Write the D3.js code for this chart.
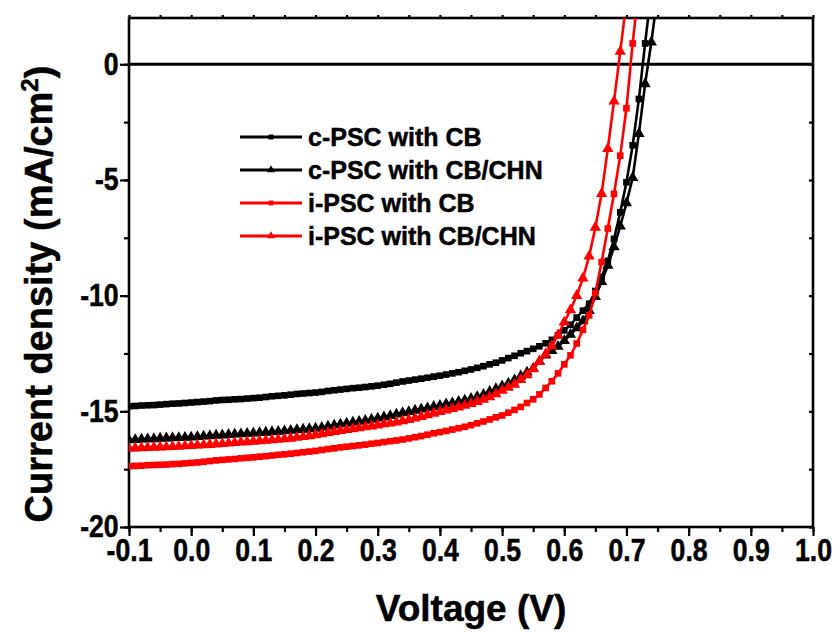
<!DOCTYPE html>
<html>
<head>
<meta charset="utf-8">
<script src="https://cdn.jsdelivr.net/npm/d3@7"></script>
<style>
  body { margin: 0; background: #fff; }
  text { font-family: Arial, "Liberation Sans", sans-serif; font-weight: bold; fill: #000; stroke: #000; stroke-width: 0.5px; }
</style>
</head>
<body>
<svg id="jv-chart" width="836" height="632"></svg>
<script>
// voltage (V), one point every 10 mV
var voltage = [-0.10,-0.09,-0.08,-0.07,-0.06,-0.05,-0.04,-0.03,-0.02,-0.01,
    0.00,0.01,0.02,0.03,0.04,0.05,0.06,0.07,0.08,0.09,
    0.10,0.11,0.12,0.13,0.14,0.15,0.16,0.17,0.18,0.19,
    0.20,0.21,0.22,0.23,0.24,0.25,0.26,0.27,0.28,0.29,
    0.30,0.31,0.32,0.33,0.34,0.35,0.36,0.37,0.38,0.39,
    0.40,0.41,0.42,0.43,0.44,0.45,0.46,0.47,0.48,0.49,
    0.50,0.51,0.52,0.53,0.54,0.55,0.56,0.57,0.58,0.59,
    0.60,0.61,0.62,0.63,0.64,0.65,0.66,0.67,0.68,0.69,
    0.70,0.71,0.72,0.73,0.74,0.75];

// current density (mA/cm2)
var cPscCB = [-14.78,-14.77,-14.75,-14.74,-14.73,-14.71,-14.69,-14.67,-14.66,-14.64,
    -14.62,-14.60,-14.58,-14.56,-14.53,-14.51,-14.50,-14.48,-14.47,-14.45,
    -14.43,-14.41,-14.38,-14.35,-14.33,-14.31,-14.28,-14.25,-14.23,-14.21,
    -14.19,-14.16,-14.12,-14.09,-14.06,-14.03,-14.00,-13.98,-13.95,-13.92,
    -13.89,-13.85,-13.81,-13.76,-13.71,-13.67,-13.63,-13.59,-13.55,-13.50,
    -13.46,-13.41,-13.36,-13.31,-13.25,-13.19,-13.12,-13.05,-12.97,-12.90,
    -12.80,-12.70,-12.60,-12.49,-12.40,-12.30,-12.19,-12.06,-11.91,-11.72,
    -11.50,-11.26,-10.95,-10.65,-10.35,-9.80,-9.20,-8.50,-7.55,-6.40,
    -5.10,-3.50,-1.50,0.90,3.20];

var cPscCBCHN = [-16.24,-16.23,-16.21,-16.20,-16.19,-16.17,-16.16,-16.15,-16.14,-16.13,
    -16.12,-16.10,-16.08,-16.06,-16.04,-16.03,-16.01,-15.99,-15.98,-15.96,
    -15.95,-15.93,-15.91,-15.89,-15.87,-15.85,-15.83,-15.80,-15.78,-15.76,
    -15.74,-15.70,-15.65,-15.60,-15.56,-15.52,-15.48,-15.44,-15.40,-15.35,
    -15.30,-15.25,-15.19,-15.13,-15.07,-15.02,-14.96,-14.91,-14.86,-14.80,
    -14.75,-14.69,-14.64,-14.58,-14.52,-14.45,-14.37,-14.28,-14.15,-14.03,
    -13.91,-13.80,-13.65,-13.48,-13.31,-13.15,-12.85,-12.57,-12.38,-12.20,
    -11.95,-11.68,-11.40,-11.10,-10.65,-10.05,-9.40,-8.70,-7.90,-7.00,
    -6.00,-4.90,-3.00,-0.85,0.95,3.00];

var iPscCB = [-17.37,-17.36,-17.35,-17.33,-17.32,-17.31,-17.30,-17.28,-17.27,-17.25,
    -17.23,-17.21,-17.18,-17.15,-17.12,-17.10,-17.08,-17.06,-17.03,-17.01,
    -16.99,-16.96,-16.94,-16.91,-16.88,-16.86,-16.83,-16.80,-16.77,-16.74,
    -16.71,-16.67,-16.63,-16.60,-16.56,-16.53,-16.50,-16.47,-16.44,-16.40,
    -16.37,-16.33,-16.29,-16.26,-16.22,-16.17,-16.12,-16.07,-16.01,-15.95,
    -15.90,-15.85,-15.79,-15.73,-15.67,-15.60,-15.52,-15.44,-15.35,-15.26,
    -15.18,-15.06,-14.94,-14.81,-14.64,-14.48,-14.27,-13.99,-13.70,-13.36,
    -12.97,-12.58,-12.07,-11.48,-10.85,-9.90,-8.55,-7.10,-5.60,-3.95,
    -1.90,0.90,3.40];

var iPscCBCHN = [-16.60,-16.59,-16.58,-16.57,-16.56,-16.55,-16.54,-16.53,-16.52,-16.50,
    -16.49,-16.47,-16.45,-16.44,-16.42,-16.40,-16.38,-16.36,-16.34,-16.32,
    -16.30,-16.28,-16.26,-16.24,-16.22,-16.20,-16.17,-16.13,-16.10,-16.06,
    -16.02,-15.98,-15.93,-15.88,-15.84,-15.80,-15.76,-15.72,-15.68,-15.64,
    -15.60,-15.55,-15.51,-15.47,-15.42,-15.36,-15.30,-15.23,-15.16,-15.09,
    -15.02,-14.95,-14.89,-14.82,-14.75,-14.67,-14.58,-14.49,-14.38,-14.25,
    -14.10,-13.97,-13.84,-13.63,-13.43,-13.17,-12.84,-12.53,-12.18,-11.70,
    -11.15,-10.62,-10.00,-9.25,-8.30,-7.05,-5.60,-3.65,-1.60,0.55,
    2.70];

var seriesNames = ["c-PSC with CB", "c-PSC with CB/CHN", "i-PSC with CB", "i-PSC with CB/CHN"];
var seriesValues = [cPscCB, cPscCBCHN, iPscCB, iPscCBCHN];
var seriesColors = ["#000000", "#000000", "#ff0000", "#ff0000"];
var seriesMarkers = ["square", "triangle", "square", "triangle"];

var xTicks = [-0.1, 0.0, 0.1, 0.2, 0.3, 0.4, 0.5, 0.6, 0.7, 0.8, 0.9, 1.0];
var yTicks = [0, -5, -10, -15, -20];

function drawJVChart() {

    let chart = d3.select("#jv-chart"),
        margin = { top: 18, right: 23, bottom: 105, left: 129 },
        width = +chart.attr("width") - margin.left - margin.right,
        height = +chart.attr("height") - margin.top - margin.bottom;

    chart.selectAll("*").remove();

    let x = d3.scaleLinear().domain([-0.1, 1.0]).range([0, width]);
    let y = d3.scaleLinear().domain([-20, 2]).range([height, 0]);

    let focus = chart.append("g")
        .attr("transform", "translate(" + margin.left + "," + margin.top + ")");

    chart.append("defs").append("clipPath")
        .attr("id", "plot-clip")
        .append("rect")
        .attr("width", width)
        .attr("height", height);

    let xMinor = d3.range(-0.1, 1.0001, 0.05);
    let yMinor = d3.range(-20, 0.001, 2.5);

    // bottom axis: minor then major
    focus.append("g")
        .attr("transform", "translate(0," + height + ")")
        .call(d3.axisBottom(x).tickValues(xMinor).tickSize(5).tickFormat(""));
    focus.append("g")
        .attr("class", "x axis")
        .attr("transform", "translate(0," + height + ")")
        .call(d3.axisBottom(x).tickValues(xTicks).tickSize(9).tickPadding(3)
            .tickFormat(d => d.toFixed(1).replace("-0.0", "0.0")));

    // top ticks
    focus.append("g")
        .call(d3.axisTop(x).tickValues(xMinor).tickSize(3).tickFormat(""));

    // left axis
    focus.append("g")
        .call(d3.axisLeft(y).tickValues(yMinor).tickSize(5).tickFormat(""));
    focus.append("g")
        .attr("class", "y axis")
        .call(d3.axisLeft(y).tickValues(yTicks).tickSize(9).tickPadding(3)
            .tickFormat(d => String(d)));

    // right ticks pointing inward
    focus.append("g")
        .attr("transform", "translate(" + width + ",0)")
        .call(d3.axisRight(y).tickValues(yMinor).tickSize(-4).tickFormat(""));

    focus.selectAll(".domain").remove();
    focus.selectAll(".tick line").style("stroke", "#000").style("stroke-width", 2.2);
    focus.selectAll(".tick text")
        .style("font-size", "31px")
        .attr("transform", "scale(0.86,1)");

    // frame
    focus.append("rect")
        .attr("width", width)
        .attr("height", height)
        .style("fill", "none")
        .style("stroke", "#000")
        .style("stroke-width", 2.6);

    // zero line
    focus.append("line")
        .attr("x1", 0)
        .attr("x2", width)
        .attr("y1", y(0))
        .attr("y2", y(0))
        .style("stroke", "#000")
        .style("stroke-width", 3);

    let plot = focus.append("g").attr("clip-path", "url(#plot-clip)");

    let square = d3.symbol().type(d3.symbolSquare).size(44);
    let triangle = d3.symbol().type(d3.symbolTriangle).size(56);

    seriesValues.forEach(function (values, s) {
        let points = values.map((v, i) => ({ V: voltage[i], J: v }));

        let line = d3.line()
            .x(d => x(d.V))
            .y(d => y(d.J));

        plot.append("path")
            .datum(points)
            .attr("d", line)
            .style("fill", "none")
            .style("stroke", seriesColors[s])
            .style("stroke-width", 2.6);

        plot.selectAll(".marker-" + s)
            .data(points)
            .enter()
            .append("path")
            .attr("class", "marker-" + s)
            .attr("d", seriesMarkers[s] === "square" ? square : triangle)
            .attr("transform", d => "translate(" + x(d.V) + "," + y(d.J) + ")")
            .style("fill", seriesColors[s]);
    });

    // legend
    let legend = chart.append("g").attr("transform", "translate(240,137)");
    seriesNames.forEach(function (name, s) {
        let row = legend.append("g").attr("transform", "translate(0," + (s * 33) + ")");
        row.append("line")
            .attr("x1", 0)
            .attr("x2", 62)
            .style("stroke", seriesColors[s])
            .style("stroke-width", 3.2);
        row.append("path")
            .attr("d", seriesMarkers[s] === "square" ? d3.symbol().type(d3.symbolSquare).size(24)
                                                     : d3.symbol().type(d3.symbolTriangle).size(28))
            .attr("transform", "translate(31,0)")
            .style("fill", seriesColors[s]);
        row.append("text")
            .attr("x", 68)
            .attr("y", 9)
            .style("font-size", "25px")
            .text(name);
    });

    // axis titles
    chart.append("text")
        .attr("text-anchor", "middle")
        .attr("x", margin.left + x(0.45))
        .attr("y", 621)
        .style("font-size", "37px")
        .text("Voltage (V)");

    let yTitle = chart.append("text")
        .attr("text-anchor", "middle")
        .attr("transform", "translate(52,294) rotate(-90)")
        .style("font-size", "38px");
    yTitle.append("tspan").text("Current density (mA/cm");
    yTitle.append("tspan").attr("dy", -14).style("font-size", "24px").text("2");
    yTitle.append("tspan").attr("dy", 14).text(")");
}

drawJVChart();
</script>
</body>
</html>
